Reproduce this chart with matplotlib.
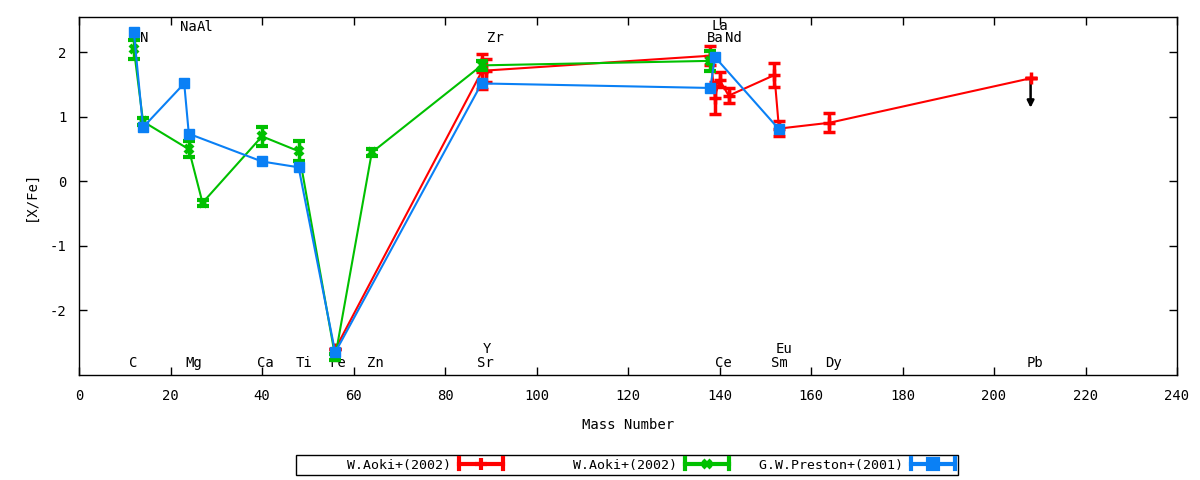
import matplotlib.pyplot as plt
from matplotlib.lines import Line2D
from matplotlib.legend_handler import HandlerBase

plt.rcParams['font.family'] = ['DejaVu Sans Mono']
plt.rcParams['axes.unicode_minus'] = False

# W.Aoki+(2002), red set
aoki1_mass = [56, 88, 89, 138, 139, 140, 142, 152, 153, 164, 208]
aoki1_xfe = [-2.60, 1.70, 1.72, 1.95, 1.30, 1.58, 1.33, 1.65, 0.82, 0.91, 1.60]
aoki1_err = [0.0, 0.27, 0.18, 0.15, 0.25, 0.12, 0.12, 0.19, 0.12, 0.15, 0.0]

# W.Aoki+(2002), green set
aoki2_mass = [12, 14, 24, 27, 40, 48, 56, 64, 88, 138]
aoki2_xfe = [2.05, 0.93, 0.50, -0.33, 0.70, 0.47, -2.72, 0.45, 1.80, 1.87]
aoki2_err = [0.15, 0.05, 0.12, 0.05, 0.15, 0.15, 0.05, 0.05, 0.07, 0.15]

# G.W.Preston+(2001)
preston_mass = [12, 14, 23, 24, 40, 48, 56, 88, 138, 139, 153]
preston_xfe = [2.31, 0.84, 1.52, 0.74, 0.31, 0.22, -2.65, 1.52, 1.45, 1.93, 0.81]

# Pb upper limit
pb_mass = 208
pb_top = 1.60
pb_tip = 1.10

# element names written on the plot
elem_text = ['C', 'N', 'Na', 'Al', 'Mg', 'Ca', 'Ti', 'Fe', 'Zn', 'Y', 'Sr', 'Zr',
             'La', 'Ba', 'Nd', 'Ce', 'Eu', 'Sm', 'Dy', 'Pb']
elem_x = [11.9, 14.2, 23.9, 27.6, 25.0, 40.8, 49.1, 56.5, 64.8, 89.1, 88.8, 91.0,
          140.0, 139.0, 143.0, 140.9, 154.0, 153.0, 165.0, 208.9]
elem_y = [-2.81, 2.23, 2.40, 2.40, -2.81, -2.81, -2.81, -2.81, -2.81, -2.59, -2.81, 2.23,
          2.41, 2.22, 2.22, -2.81, -2.59, -2.81, -2.81, -2.81]

red = '#ff0000'
green = '#00c000'
blue = '#0a80f5'


class KeySample(HandlerBase):
    # gnuplot-like key sample: |----marker----|
    def create_artists(self, legend, orig_handle, xdescent, ydescent,
                       width, height, fontsize, trans):
        x0, x1 = -xdescent, -xdescent + width
        yc = -ydescent + height / 2
        c = orig_handle.get_color()
        arts = [Line2D([x0, x1], [yc, yc], color=c, lw=3)]
        for xe in (x0, x1):
            arts.append(Line2D([xe, xe], [yc - 4, yc + 4], color=c, lw=3))
        arts.append(Line2D([(x0 + x1) / 2], [yc], marker=orig_handle.get_marker(),
                           ms=orig_handle.get_markersize(), mew=3, color=c))
        for a in arts:
            a.set_transform(trans)
        return arts


fig = plt.figure(figsize=(12, 4.8), dpi=100)
ax = fig.add_axes([79 / 1200, 105 / 480, 1098 / 1200, 358 / 480])

ax.errorbar(aoki1_mass, aoki1_xfe, yerr=aoki1_err, color=red, lw=1.5, marker='+',
            ms=8, mew=2.5, elinewidth=2.5, capsize=4, capthick=3, zorder=3)
ax.errorbar(aoki2_mass, aoki2_xfe, yerr=aoki2_err, color=green, lw=1.5, marker='x',
            ms=6, mew=3, elinewidth=2.5, capsize=4, capthick=3, zorder=4)
ax.plot(preston_mass, preston_xfe, color=blue, lw=1.5, marker='s', ms=7, zorder=5)

ax.annotate('', xy=(pb_mass, pb_tip), xytext=(pb_mass, pb_top),
            arrowprops=dict(arrowstyle='-|>', color='k', lw=1.8, mutation_scale=10))

for t, x, y in zip(elem_text, elem_x, elem_y):
    ax.text(x, y, t, ha='center', va='center', fontsize=10)

ax.set_xlim(0, 240)
ax.set_ylim(-3, 2.55)
ax.set_xticks(range(0, 241, 20))
ax.set_yticks([-2, -1, 0, 1, 2])
ax.tick_params(direction='in', top=True, right=True, length=6, width=1, labelsize=10)
ax.tick_params(axis='x', pad=10)
ax.tick_params(axis='y', pad=9)
for s in ax.spines.values():
    s.set_linewidth(1)
ax.set_xlabel('Mass Number', fontsize=10, labelpad=11)
ax.set_ylabel('[X/Fe]', fontsize=10, labelpad=9)

handles = [Line2D([], [], color=red, marker='+', ms=8),
           Line2D([], [], color=green, marker='x', ms=6),
           Line2D([], [], color=blue, marker='s', ms=7)]
labels = ['      W.Aoki+(2002)', '      W.Aoki+(2002)', ' G.W.Preston+(2001)']
leg = fig.legend(handles, labels, handler_map={Line2D: KeySample()}, loc='center',
                 bbox_to_anchor=(627 / 1200, 1 - 465 / 480), ncol=3, markerfirst=False,
                 fontsize=9.5, handlelength=3.3, handletextpad=0.6, columnspacing=1.7,
                 borderpad=0.25, fancybox=False, framealpha=1, edgecolor='k')
leg.get_frame().set_linewidth(1)

fig.savefig('out.png', dpi=100)
